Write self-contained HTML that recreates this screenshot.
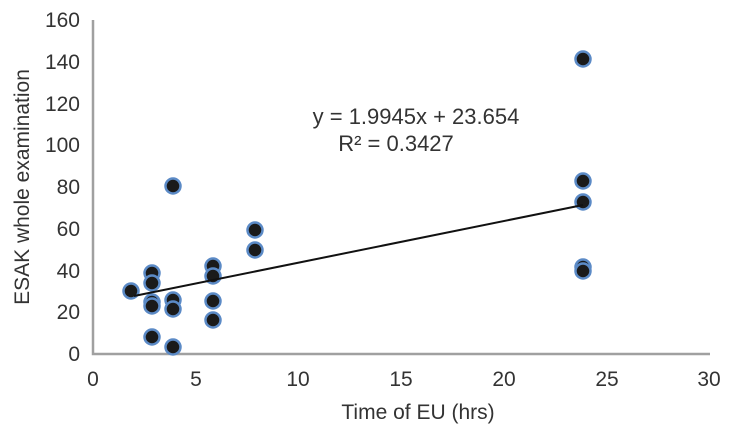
<!DOCTYPE html><html><head><style>body{margin:0;background:#fff}svg{display:block}text{font-family:"Liberation Sans",sans-serif;fill:#333}</style></head><body>
<svg width="734" height="442" xmlns="http://www.w3.org/2000/svg">
<g font-size="21" text-anchor="end">
<text x="80" y="361">0</text><text x="80" y="319">20</text><text x="80" y="278">40</text><text x="80" y="236">60</text><text x="80" y="194">80</text><text x="80" y="152">100</text><text x="80" y="111">120</text><text x="80" y="69">140</text><text x="80" y="27">160</text></g>
<g font-size="21" text-anchor="middle">
<text x="93" y="386">0</text><text x="196" y="386">5</text><text x="298" y="386">10</text><text x="401" y="386">15</text><text x="504" y="386">20</text><text x="607" y="386">25</text><text x="709" y="386">30</text>
<text x="418" y="419">Time of EU (hrs)</text>
<text transform="translate(29,187) rotate(-90)">ESAK whole examination</text></g>
<g font-size="22" text-anchor="middle">
<text x="416" y="124">y = 1.9945x + 23.654</text><text x="396" y="151">R² = 0.3427</text></g>
<path d="M93,20V354H710" fill="none" stroke="#a0a0a0" stroke-width="2.5"/>
<g fill="#1a1a1a" stroke="#5b8ac6" stroke-width="2.5">
<circle cx="131" cy="291" r="7.5"/><circle cx="152" cy="273" r="7.5"/><circle cx="152" cy="283" r="7.5"/><circle cx="152" cy="302" r="7.5"/><circle cx="152" cy="306" r="7.5"/><circle cx="152" cy="337" r="7.5"/>
<circle cx="173" cy="186" r="7.5"/><circle cx="173" cy="300" r="7.5"/><circle cx="173" cy="309" r="7.5"/><circle cx="173" cy="347" r="7.5"/>
<circle cx="213" cy="266" r="7.5"/><circle cx="213" cy="276" r="7.5"/><circle cx="213" cy="301" r="7.5"/><circle cx="213" cy="320" r="7.5"/>
<circle cx="255" cy="230" r="7.5"/><circle cx="255" cy="250" r="7.5"/>
<circle cx="583" cy="59" r="7.5"/><circle cx="583" cy="181" r="7.5"/><circle cx="583" cy="202" r="7.5"/><circle cx="583" cy="267" r="7.5"/><circle cx="583" cy="271" r="7.5"/></g>
<line x1="134" y1="296" x2="583" y2="205" stroke="#111" stroke-width="2"/>
</svg></body></html>
